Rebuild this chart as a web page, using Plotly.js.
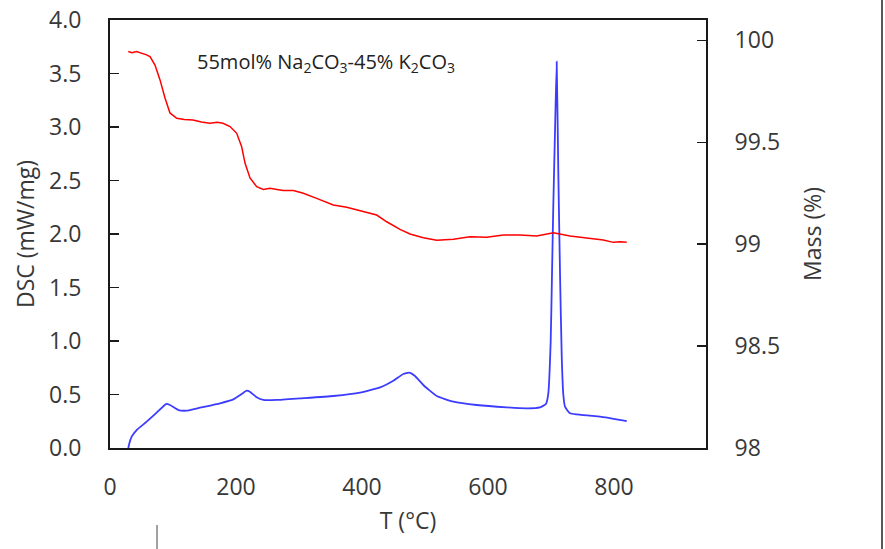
<!DOCTYPE html>
<html>
<head>
<meta charset="utf-8">
<script src="https://cdn.plot.ly/plotly-3.0.1.min.js"></script>
<style>html,body{margin:0;padding:0;background:#fff;}</style>
</head>
<body>
<div id="chart" style="width:885px;height:549px;"></div>
<script>
// DSC curve (left axis)
var dscT = [29, 31, 34.4, 42.3, 58.2, 74.1, 88.9, 95.2, 108.5, 121.7, 142.9, 174.6, 195.7, 209, 217, 222, 232.8, 243.3, 264.6, 301.6, 354.4, 396.8, 428.6, 449.7, 465.6, 475.1, 484.1, 497.3, 518.6, 545, 582, 629.7, 661.4, 682.5, 692, 695.7, 699.5, 701.5, 703.6, 706.5, 709, 711.6, 714.3, 717, 719.5, 722.2, 730.2, 777.8, 820.2];
var dscV = [0.0, 0.05, 0.106, 0.168, 0.246, 0.330, 0.411, 0.402, 0.355, 0.349, 0.377, 0.418, 0.455, 0.505, 0.536, 0.526, 0.474, 0.449, 0.449, 0.464, 0.486, 0.517, 0.567, 0.629, 0.692, 0.704, 0.673, 0.589, 0.486, 0.433, 0.402, 0.380, 0.371, 0.380, 0.411, 0.511, 1.0, 1.6, 2.255, 3.0, 3.61, 2.567, 1.633, 0.853, 0.5, 0.386, 0.324, 0.293, 0.252];

// Mass curve (right axis)
var massT = [29, 35, 42, 50.3, 57, 63.5, 71.4, 79.4, 87.3, 95.2, 105.9, 118, 131.7, 145, 158.7, 170, 179.4, 190.5, 201.1, 209, 214.3, 222.2, 232.9, 243.3, 254, 265, 275, 291, 306.8, 328, 354.4, 375.7, 396.8, 410, 423.3, 439.2, 460.3, 476.2, 497.3, 518.6, 545, 571.4, 598, 624.3, 650.8, 677.3, 703.7, 730.2, 756.7, 783, 798.9, 810, 820.2];
var massV = [99.945, 99.94, 99.945, 99.937, 99.93, 99.920, 99.879, 99.806, 99.717, 99.644, 99.618, 99.612, 99.609, 99.600, 99.593, 99.598, 99.593, 99.577, 99.544, 99.478, 99.398, 99.325, 99.282, 99.269, 99.274, 99.268, 99.263, 99.263, 99.250, 99.225, 99.192, 99.181, 99.164, 99.155, 99.143, 99.110, 99.073, 99.050, 99.032, 99.019, 99.024, 99.037, 99.034, 99.045, 99.045, 99.040, 99.056, 99.040, 99.029, 99.021, 99.009, 99.012, 99.009];

var xTicks = [0, 200, 400, 600, 800];
var yTicks = [0, 0.5, 1, 1.5, 2, 2.5, 3, 3.5, 4];
var y2Ticks = [98, 98.5, 99, 99.5, 100];
var y2Labels = ['98', '98.5', '99', '99.5', '100'];

var traces = [
  {x: massT, y: massV, yaxis: 'y2', type: 'scatter', mode: 'lines', name: 'Mass',
   line: {color: '#ff0000', width: 1.5}},
  {x: dscT, y: dscV, type: 'scatter', mode: 'lines', name: 'DSC',
   line: {color: '#3c3cff', width: 1.8, shape: 'spline', smoothing: 0.4}}
];

var axisLine = '#1a1a1a';
var layout = {
  width: 885, height: 549,
  margin: {l: 110, r: 179, t: 20, b: 101},
  paper_bgcolor: '#ffffff', plot_bgcolor: '#ffffff',
  showlegend: false,
  font: {family: 'Open Sans', size: 23, color: '#383838'},
  xaxis: {
    range: [0, 946], tickvals: xTicks, ticks: '', showline: true, mirror: true,
    linecolor: axisLine, linewidth: 2, showgrid: false, zeroline: false,
    ticklabelstandoff: 17,
    title: {text: 'T (°C)', standoff: 12, font: {size: 23}}
  },
  yaxis: {
    range: [0, 4], tickvals: yTicks, tickformat: '.1f', ticks: 'inside', ticklen: 9,
    tickwidth: 1.5, tickcolor: axisLine, showline: true, linecolor: axisLine, linewidth: 2,
    showgrid: false, zeroline: false, ticklabelstandoff: 22,
    title: {text: 'DSC (mW/mg)', standoff: 8, font: {size: 23}}
  },
  yaxis2: {
    overlaying: 'y', side: 'right', range: [98, 100.1], tickvals: y2Ticks, ticktext: y2Labels,
    ticks: 'inside', ticklen: 9, tickwidth: 1.5, tickcolor: axisLine, showline: true,
    linecolor: axisLine, linewidth: 2, showgrid: false, zeroline: false, ticklabelstandoff: 22,
    title: {text: 'Mass (%)', standoff: 26, font: {size: 23}}
  },
  annotations: [{
    xref: 'x', yref: 'y', x: 135, y: 3.6, xanchor: 'left', yanchor: 'middle', showarrow: false,
    text: '55mol% Na<sub>2</sub>CO<sub>3</sub>-45% K<sub>2</sub>CO<sub>3</sub>',
    font: {size: 20, color: '#222222'}
  }],
  shapes: [
    {type: 'line', xref: 'paper', yref: 'paper', x0: 1.2953, x1: 1.2953, y0: -0.236, y1: 1.0467,
     line: {color: '#222222', width: 1.5}},
    {type: 'line', xref: 'paper', yref: 'paper', x0: 0.0789, x1: 0.0789, y0: -0.236, y1: -0.18,
     line: {color: '#444444', width: 1}}
  ]
};

Plotly.newPlot('chart', traces, layout, {displayModeBar: false, staticPlot: true});
</script>
</body>
</html>
